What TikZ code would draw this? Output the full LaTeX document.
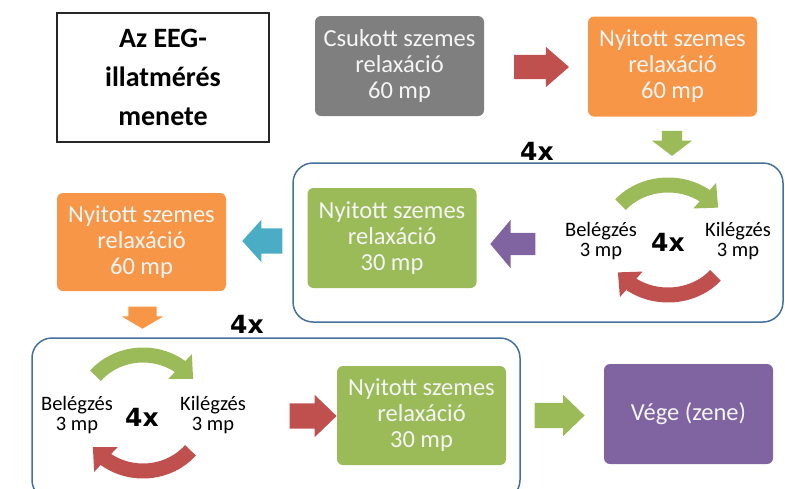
\documentclass[tikz,border=0pt]{standalone}
\usepackage{fontspec}
\setmainfont{Carlito}
\newfontfamily\heavyfont{DejaVu Sans}
\usetikzlibrary{shapes.arrows, arrows.meta, bending}

\definecolor{cGray}{HTML}{7F7F7F}
\definecolor{cOrange}{HTML}{F79646}
\definecolor{cGreen}{HTML}{9BBB59}
\definecolor{cPurple}{HTML}{8064A2}
\definecolor{cRed}{HTML}{C0504D}
\definecolor{cTeal}{HTML}{4BACC6}
\definecolor{cFrame}{HTML}{44709E}

\begin{document}
\begin{tikzpicture}[x=1pt, y=1pt]
  \tikzstyle{stepbox} = [rounded corners=6pt, minimum width=169pt, minimum height=100pt, align=center, text=white!96!black, font=\fontsize{24.5}{26}\selectfont, inner sep=2pt]
  \tikzstyle{blockarrow} = [single arrow, inner sep=0pt, single arrow tip angle=90]
  \tikzstyle{loopframe} = [draw=cFrame, line width=1.5pt, rounded corners=20pt]
  \tikzstyle{breath} = [align=center, font=\fontsize{20.5}{20}\selectfont]
  \tikzstyle{timeslabel} = [font=\heavyfont\bfseries\fontsize{25}{25}\selectfont]
  \tikzstyle{cyclearc} = [line width=15pt, -{Triangle[width=33pt, length=18pt]}]
  \clip (0,0) rectangle (785,-488);

  % frames of the two repeated blocks
  \draw[loopframe] (293,-163) rectangle (783,-322);
  \draw[loopframe] (32,-338) rectangle (520,-500);

  \node[draw=black!85, line width=1.5pt, minimum width=212pt, minimum height=129pt, align=center, font=\bfseries\fontsize{28}{39}\selectfont] (title) at (163,-77.5) {Az EEG-\\illatmérés\\menete};

  % first row
  \node[stepbox, fill=cGray] (closed) at (399.5,-66) {Csukott szemes\\relaxáció\\60 mp};
  \node[stepbox, fill=cOrange] (open1) at (672.5,-66.5) {Nyitott szemes\\relaxáció\\60 mp};
  \node[blockarrow, fill=cRed, minimum height=55pt, inner ysep=12pt, single arrow head extend=8pt, single arrow tip angle=82] (a1) at (534.5,-67) {};
  \node[blockarrow, fill=cGreen, rotate=270, minimum height=25pt, inner ysep=10pt, single arrow head extend=10pt, single arrow tip angle=106] (a2) at (672,-139.5) {};
  \node[timeslabel] (rep1) at (537,-151) {4x};

  % second row
  \node[breath] (in1) at (601,-241) {Belégzés\\3 mp};
  \node[breath] (out1) at (738,-241) {Kilégzés\\3 mp};
  \node[timeslabel] (n1) at (668,-242) {4x};
  \coordinate (cyc1) at (668,-240);
  \draw[cyclearc, cGreen] ([shift={(140:62 and 55)}]cyc1) arc[start angle=140, end angle=36, x radius=62, y radius=55];
  \draw[cyclearc, cRed] ([shift={(-40:62 and 55)}]cyc1) arc[start angle=-40, end angle=-144, x radius=62, y radius=55];
  \node[blockarrow, fill=cPurple, rotate=180, minimum height=45pt, inner ysep=11pt, single arrow head extend=13pt, single arrow tip angle=100] (a3) at (517.5,-244) {};
  \node[stepbox, fill=cGreen] (open30a) at (392,-238) {Nyitott szemes\\relaxáció\\30 mp};
  \node[blockarrow, fill=cTeal, rotate=180, minimum height=40pt, inner ysep=12.5pt, single arrow head extend=8.5pt, single arrow tip angle=96] (a4) at (268,-241) {};
  \node[stepbox, fill=cOrange, minimum height=98pt] (open2) at (141.5,-242) {Nyitott szemes\\relaxáció\\60 mp};
  \node[blockarrow, fill=cOrange, rotate=270, minimum height=22pt, inner ysep=14pt, single arrow head extend=6.5pt, single arrow tip angle=119] (a5) at (142.5,-313.5) {};
  \node[timeslabel] (rep2) at (247,-324) {4x};

  % third row
  \node[breath] (in2) at (77,-415) {Belégzés\\3 mp};
  \node[breath] (out2) at (213,-415) {Kilégzés\\3 mp};
  \node[timeslabel] (n2) at (142,-417) {4x};
  \coordinate (cyc2) at (143,-413);
  \draw[cyclearc, cGreen] ([shift={(140:62 and 58)}]cyc2) arc[start angle=140, end angle=36, x radius=62, y radius=58];
  \draw[cyclearc, cRed] ([shift={(-40:62 and 58)}]cyc2) arc[start angle=-40, end angle=-144, x radius=62, y radius=58];
  \node[blockarrow, fill=cRed, minimum height=47pt, inner ysep=12.5pt, single arrow head extend=8.5pt, single arrow tip angle=88] (a6) at (306.5,-416) {};
  \node[stepbox, fill=cGreen, minimum height=99pt] (open30b) at (421.5,-415.5) {Nyitott szemes\\relaxáció\\30 mp};
  \node[blockarrow, fill=cGreen, minimum height=50pt, inner ysep=12.5pt, single arrow head extend=8pt, single arrow tip angle=88] (a7) at (553,-415.5) {};
  \node[stepbox, fill=cPurple] (end) at (688.5,-414) {Vége (zene)};
\end{tikzpicture}
\end{document}
